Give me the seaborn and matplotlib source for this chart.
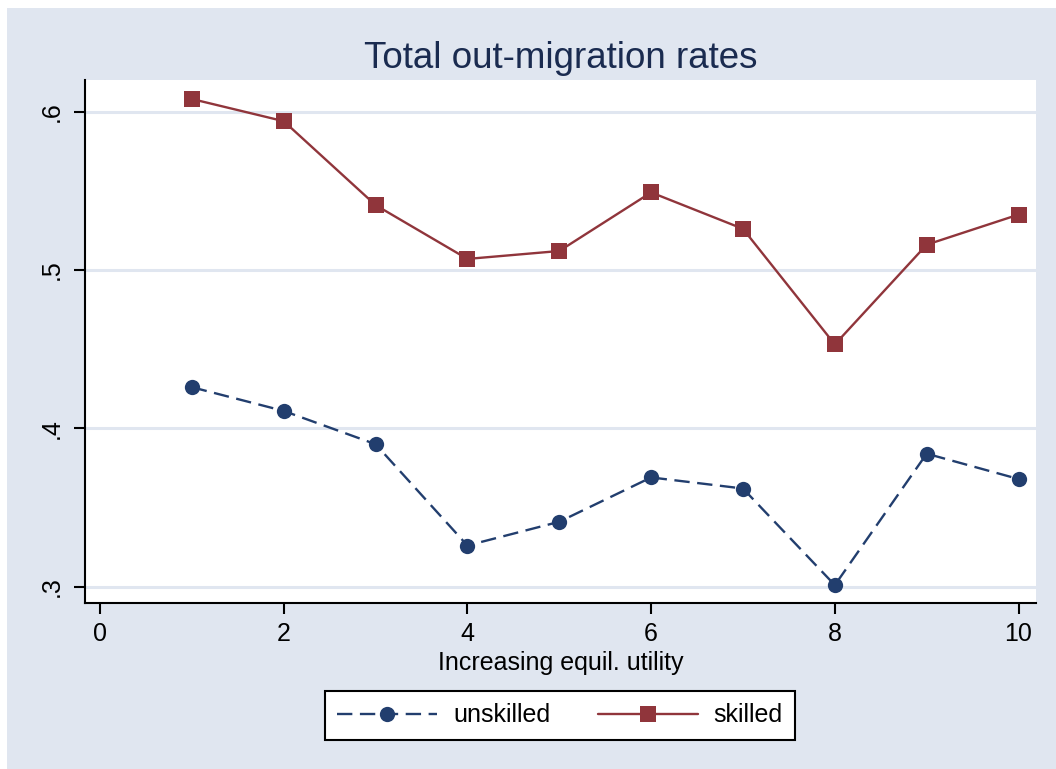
import pandas as pd
import numpy as np
import matplotlib
matplotlib.use('Agg')
import matplotlib.pyplot as plt
import seaborn as sns
from matplotlib.patches import Rectangle

# ── Data ──────────────────────────────────────────────────
utility   = [1, 2, 3, 4, 5, 6, 7, 8, 9, 10]
unskilled = [0.426, 0.411, 0.390, 0.326, 0.341, 0.369, 0.362, 0.301, 0.384, 0.368]
skilled   = [0.608, 0.594, 0.541, 0.507, 0.512, 0.549, 0.526, 0.453, 0.516, 0.535]
x_ticks   = [0, 2, 4, 6, 8, 10]
y_ticks   = [0.3, 0.4, 0.5, 0.6]
y_labels  = ['.3', '.4', '.5', '.6']

df = pd.DataFrame({'utility': utility * 2,
                   'rate': unskilled + skilled,
                   'group': ['unskilled'] * 10 + ['skilled'] * 10})

sns.set_theme(style='white')
plt.rcParams['font.family'] = ['Liberation Sans', 'DejaVu Sans']
plt.rcParams['text.color'] = 'black'

BG = '#e0e6f0'
NAVY = '#223e6e'
MAROON = '#90353b'

W, H = 1056, 769
fig = plt.figure(figsize=(W / 100, H / 100), dpi=100, facecolor='white')
fig.patches.append(Rectangle((7 / W, 0), 1 - 7 / W, 1 - 8 / H,
                             transform=fig.transFigure, facecolor=BG,
                             edgecolor='none', zorder=-10))

ax = fig.add_axes([85 / W, 1 - 603 / H, (1036 - 85) / W, (603 - 80) / H])
ax.set_facecolor('white')

sns.lineplot(data=df, x='utility', y='rate', hue='group', style='group',
             hue_order=['unskilled', 'skilled'],
             palette={'unskilled': NAVY, 'skilled': MAROON},
             dashes={'unskilled': (6.5, 3.2), 'skilled': ''},
             markers={'unskilled': 'o', 'skilled': 's'},
             markersize=11, markeredgewidth=0, linewidth=1.7, ax=ax, zorder=3)

ax.set_xlim(-0.163, 10.19)
ax.set_ylim(0.2897, 0.620)
ax.set_xticks(x_ticks)
ax.set_yticks(y_ticks)
ax.set_yticklabels(y_labels, rotation=90, va='center')
ax.tick_params(axis='both', labelsize=18, length=8, width=1.5, color='black',
               labelcolor='black', direction='out', bottom=True, left=True)
ax.tick_params(axis='x', pad=6)
ax.tick_params(axis='y', pad=7)
ax.grid(axis='y', color=BG, linewidth=2.2, zorder=1)
ax.set_axisbelow(True)

for side in ['top', 'right']:
    ax.spines[side].set_visible(False)
for side in ['left', 'bottom']:
    ax.spines[side].set_color('black')
    ax.spines[side].set_linewidth(1.5)

ax.set_xlabel('Increasing equil. utility', fontsize=18, labelpad=3, color='black')
ax.set_ylabel('')
ax.set_title('Total out-migration rates', fontsize=26.5, color='#1a2b50', pad=9)

handles, labels = ax.get_legend_handles_labels()
ax.get_legend().remove()
leg = fig.legend(handles, labels, loc='center', ncol=2,
                 bbox_to_anchor=(560 / W, 1 - 715.5 / H), fontsize=18,
                 frameon=True, fancybox=False, edgecolor='black',
                 facecolor='white', framealpha=1, handlelength=4.0,
                 columnspacing=1.9, handletextpad=0.64, borderpad=0.5,
                 borderaxespad=0, labelcolor='black')
leg.get_frame().set_linewidth(1.5)

plt.savefig('out.png', dpi=100, facecolor=fig.get_facecolor())
